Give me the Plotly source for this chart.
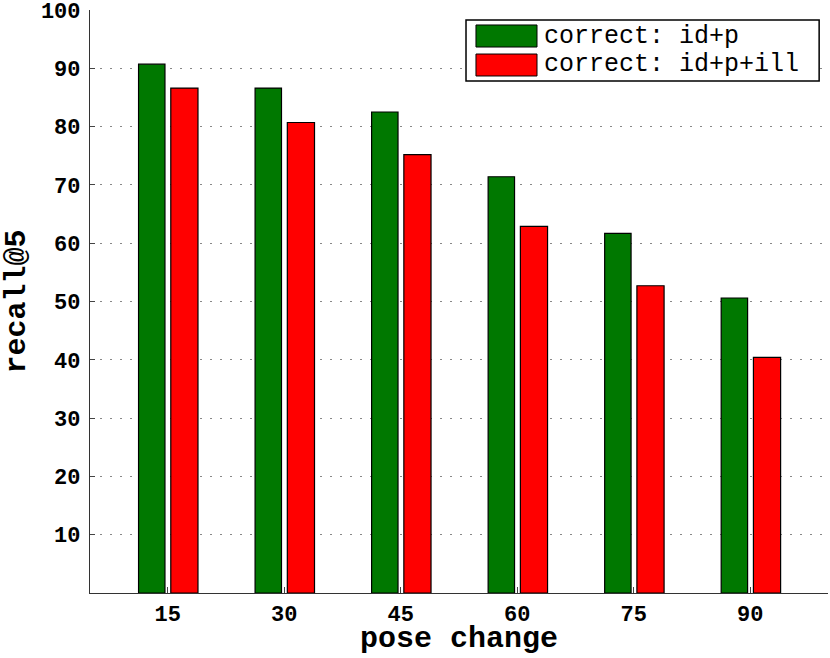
import plotly.graph_objects as go

pose_change = [15, 30, 45, 60, 75, 90]
recall_id_p = [90.7, 86.6, 82.5, 71.4, 61.7, 50.6]
recall_id_p_ill = [86.6, 80.7, 75.2, 62.9, 52.7, 40.4]

series_names = ['correct: id+p', 'correct: id+p+ill']
series_colors = ['#007800', '#ff0000']

tick_vals = [10, 20, 30, 40, 50, 60, 70, 80, 90, 100]

mono = 'Liberation Mono, Courier New, monospace'

fig = go.Figure()
fig.add_trace(go.Bar(x=pose_change, y=recall_id_p, name=series_names[0],
                     width=3.4, offset=-3.75,
                     marker=dict(color=series_colors[0], line=dict(color='black', width=1.2))))
fig.add_trace(go.Bar(x=pose_change, y=recall_id_p_ill, name=series_names[1],
                     width=3.5, offset=0.4,
                     marker=dict(color=series_colors[1], line=dict(color='black', width=1.2))))

# legend drawn by hand, MATLAB style (wide swatches)
fig.add_shape(type='rect', xref='paper', yref='paper', x0=0.5095, x1=0.988, y0=0.8782, y1=0.983,
              line=dict(color='black', width=1.5), fillcolor='white', layer='above')
swatch_y = [(0.9365, 0.9743), (0.8868, 0.9245)]
text_y = [0.9554, 0.9057]
for name, col, (y0, y1), ty in zip(series_names, series_colors, swatch_y, text_y):
    fig.add_shape(type='rect', xref='paper', yref='paper', x0=0.5230, x1=0.6057, y0=y0, y1=y1,
                  line=dict(color='black', width=1), fillcolor=col, layer='above')
    fig.add_annotation(xref='paper', yref='paper', x=0.6125, y=ty, xanchor='left', yanchor='middle',
                       text=name, showarrow=False,
                       font=dict(family=mono, size=25, color='black'))

# x axis title placed by hand so it clears the tick labels
fig.add_annotation(xref='paper', yref='paper', x=0.5, y=-0.079, xanchor='center', yanchor='middle',
                   text='pose change', showarrow=False,
                   font=dict(family=mono, size=30, color='black', weight='bold'))

fig.update_layout(width=830, height=658,
                  margin=dict(l=90, r=2, t=10, b=65),
                  plot_bgcolor='white', paper_bgcolor='white',
                  showlegend=False,
                  xaxis=dict(range=[5, 100], tickvals=pose_change,
                             ticktext=[str(v) for v in pose_change],
                             ticks='inside', ticklen=6, tickcolor='#444',
                             showline=True, linecolor='#333', linewidth=1.2,
                             showgrid=False, zeroline=False, automargin=False,
                             tickfont=dict(family=mono, size=22, color='black', weight='bold')),
                  yaxis=dict(range=[0, 100], tickvals=tick_vals,
                             ticks='inside', ticklen=5, tickcolor='#444',
                             showline=True, linecolor='#333', linewidth=1.2,
                             showgrid=True, gridcolor='#888', griddash='2px,8px', gridwidth=1,
                             zeroline=False, ticklabelstandoff=4, automargin=False,
                             ticklabeloverflow='allow',
                             tickfont=dict(family=mono, size=22, color='black', weight='bold'),
                             title=dict(text='recall@5', standoff=16,
                                        font=dict(family=mono, size=30, color='black', weight='bold'))))

fig.write_html("out.html", config={'displayModeBar': False},
               post_script="document.body.style.margin = '0px';")
